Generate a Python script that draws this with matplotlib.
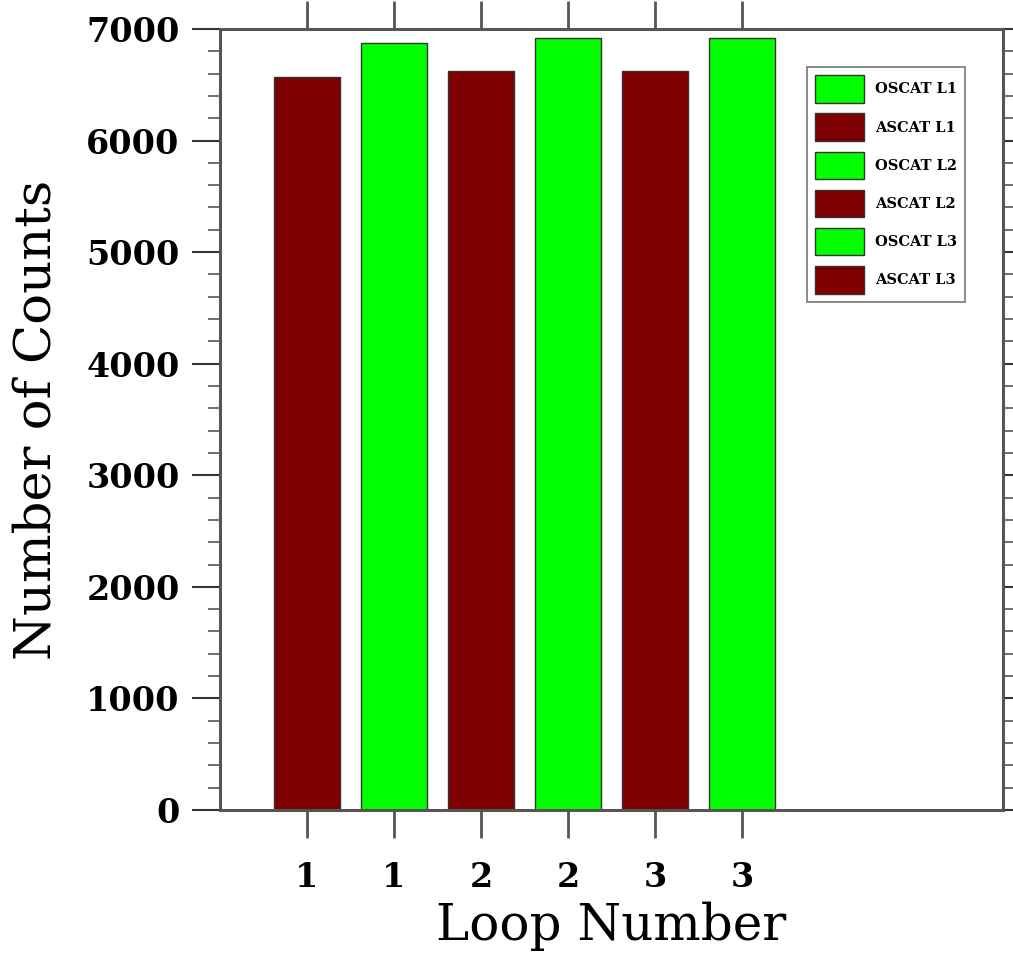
import matplotlib
matplotlib.use("Agg")
import matplotlib.pyplot as plt
from matplotlib.ticker import MultipleLocator

# data
positions = [1, 2, 3, 4, 5, 6]
tick_labels = ["1", "1", "2", "2", "3", "3"]
counts = [6570, 6875, 6624, 6919, 6624, 6919]
series = ["ASCAT L1", "OSCAT L1", "ASCAT L2", "OSCAT L2", "ASCAT L3", "OSCAT L3"]
legend_order = ["OSCAT L1", "ASCAT L1", "OSCAT L2", "ASCAT L2", "OSCAT L3", "ASCAT L3"]

green = "#00ff00"
maroon = "#7f0000"
colors = [maroon if s.startswith("ASCAT") else green for s in series]

fig = plt.figure(figsize=(10.13, 9.56), dpi=100)
ax = fig.add_axes([0.2172, 0.1527, 0.7728, 0.817])

handles = {}
for x, c, col, name in zip(positions, counts, colors, series):
    b = ax.bar(x, c, width=0.76, color=col, edgecolor="#333333", linewidth=1.0,
               label=name)
    handles[name] = b

ax.set_xlim(0, 9)
ax.set_ylim(0, 7000)
ax.set_xticks(positions)
ax.set_xticklabels(tick_labels)
ax.yaxis.set_major_locator(MultipleLocator(1000))
ax.yaxis.set_minor_locator(MultipleLocator(200))

for s in ax.spines.values():
    s.set_linewidth(2.2)
    s.set_color("#555555")

ax.tick_params(axis="x", which="major", direction="out", length=20, width=2,
               color="#555555", top=True, pad=17)
ax.tick_params(axis="y", which="major", direction="out", length=20, width=1.5,
               color="#333333", right=True, pad=9)
ax.tick_params(axis="y", which="minor", direction="out", length=9, width=1.2,
               color="#555555", right=True)

for lab in ax.get_xticklabels() + ax.get_yticklabels():
    lab.set_fontfamily("DejaVu Serif")
    lab.set_fontsize(24)
    lab.set_fontweight("bold")

ax.set_xlabel("Loop Number", family="DejaVu Serif", fontsize=36, labelpad=5)
ax.set_ylabel("Number of Counts", family="DejaVu Serif", fontsize=37, labelpad=18)

leg = ax.legend([handles[n] for n in legend_order], legend_order,
                loc="upper left", bbox_to_anchor=(0.75, 0.951),
                prop={"family": "DejaVu Serif", "size": 10.5, "weight": "bold"},
                fancybox=False, edgecolor="#777777", framealpha=1,
                handlelength=3.36, handleheight=2.5, labelspacing=0.75,
                borderpad=0.55, handletextpad=0.75, borderaxespad=0)
leg.get_frame().set_linewidth(1.2)

fig.savefig("out.png", dpi=100)
